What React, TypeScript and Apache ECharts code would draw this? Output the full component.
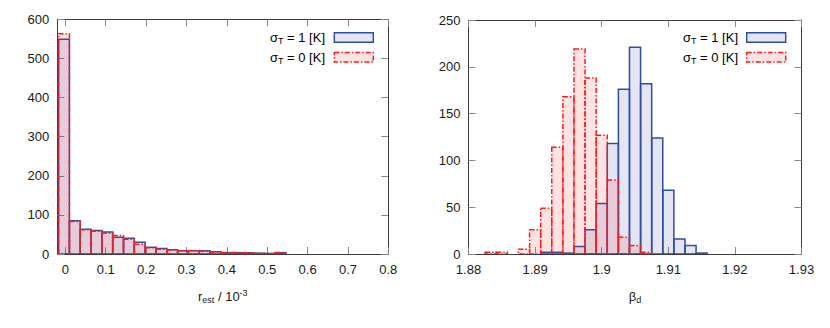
import React, { useEffect, useRef } from "react";
import * as echarts from "echarts";

// ---- Left panel: r_est histogram (units of 1e-3) ----
const leftBinStart = -0.0168;
const leftBinWidth = 0.0268;
const leftSigma1 = [549, 85, 63, 60, 56, 43, 40, 30, 17, 14, 11, 8, 8, 8, 6, 3, 3, 3, 2, 1, 3];
const leftSigma0 = [563, 83, 62, 58, 53, 47, 38, 25, 16, 12, 10, 8, 9, 7, 5, 4, 4, 3, 2, 1, 4];
const leftXTicks = [0, 0.1, 0.2, 0.3, 0.4, 0.5, 0.6, 0.7, 0.8];

// ---- Right panel: beta_d histogram ----
const rightBinStart = 1.8825;
const rightBinWidth = 0.001667;
const rightSigma1 = [0, 0, 0, 0, 0, 2, 2, 1, 8, 26, 54, 118, 176, 221, 182, 124, 68, 16, 9, 1];
const rightSigma0 = [2, 2, 0, 5, 26, 49, 114, 168, 219, 188, 127, 79, 18, 9, 2, 0, 0, 0, 0, 0];
const rightXTicks = [1.88, 1.89, 1.9, 1.91, 1.92, 1.93];

const FONT = "'Liberation Sans', Arial, Helvetica, sans-serif";
const TEXT = "#1a1a1a";
const AXIS = "#3a3a3a";
const TICK = "#888888";
const BLUE = "#2d4fa0";
const BLUE_FILL = "rgba(50,50,160,0.13)";
const RED = "#ff1a1a";
const RED_FILL = "rgba(255,40,40,0.13)";
const DASHDOT = [5, 2, 1.5, 2];

function toBins(start: number, width: number, counts: number[]) {
  return counts.map((c, i) => [start + i * width, start + (i + 1) * width, c]);
}

function histSeries(
  name: string,
  axisIdx: number,
  data: number[][],
  stroke: string,
  fill: string,
  dash: number[] | null
) {
  return {
    type: "custom",
    name,
    xAxisIndex: axisIdx * 2,
    yAxisIndex: axisIdx * 2,
    encode: { x: [0, 1], y: 2 },
    clip: true,
    data,
    renderItem: (params: any, api: any) => {
      const v = api.value(2);
      if (!v) return null;
      const p0 = api.coord([api.value(0), v]);
      const p1 = api.coord([api.value(1), 0]);
      return {
        type: "rect",
        shape: { x: p0[0], y: p0[1], width: p1[0] - p0[0], height: p1[1] - p0[1] },
        style: {
          fill,
          stroke,
          lineWidth: 1.5,
          lineDash: dash || undefined,
        },
      };
    },
  };
}

const axisLineStyle = { show: true, onZero: false, lineStyle: { color: AXIS, width: 1 } };
const tickStyle = { color: TICK, width: 1 };
const labelBase = { color: TEXT, fontSize: 13, fontFamily: FONT };

function xAxes(gridIndex: number, min: number, max: number, ticks: number[], fmt: (v: number) => string, name: string, rich: any) {
  return [
    {
      gridIndex,
      type: "value",
      min,
      max,
      position: "bottom",
      axisLine: axisLineStyle,
      axisTick: { show: true, inside: true, length: 7, customValues: ticks, lineStyle: tickStyle },
      axisLabel: { ...labelBase, margin: 9, customValues: ticks, formatter: fmt },
      splitLine: { show: false },
      name,
      nameLocation: "middle",
      nameGap: 34,
      nameTextStyle: { ...labelBase, rich },
    },
    {
      gridIndex,
      type: "value",
      min,
      max,
      position: "top",
      axisLine: axisLineStyle,
      axisTick: { show: true, inside: true, length: 7, customValues: ticks, lineStyle: tickStyle },
      axisLabel: { show: false },
      splitLine: { show: false },
    },
  ];
}

function yAxes(gridIndex: number, max: number, interval: number) {
  return [
    {
      gridIndex,
      type: "value",
      min: 0,
      max,
      interval,
      position: "left",
      axisLine: axisLineStyle,
      axisTick: { show: true, inside: true, length: 7, lineStyle: tickStyle },
      axisLabel: { ...labelBase, margin: 8 },
      splitLine: { show: false },
    },
    {
      gridIndex,
      type: "value",
      min: 0,
      max,
      interval,
      position: "right",
      axisLine: axisLineStyle,
      axisTick: { show: true, inside: true, length: 7, lineStyle: tickStyle },
      axisLabel: { show: false },
      splitLine: { show: false },
    },
  ];
}

function legendItems(textRight: number, rectX: number) {
  const rich = {
    a: { fontSize: 13, fontFamily: FONT, color: TEXT },
    s: { fontSize: 9, fontFamily: FONT, color: TEXT, padding: [7, 0, 0, 0] },
  };
  const rows = [
    { label: "{a|σ}{s|T}{a| = 1 [K]}", y: 37.5, stroke: BLUE, fill: "rgba(50,50,160,0.13)", dash: null },
    { label: "{a|σ}{s|T}{a| = 0 [K]}", y: 57.3, stroke: RED, fill: "rgba(255,40,40,0.13)", dash: DASHDOT },
  ];
  const out: any[] = [];
  rows.forEach((r) => {
    out.push({
      type: "text",
      x: textRight,
      y: r.y,
      style: { text: r.label, rich, align: "right", verticalAlign: "middle" },
    });
    out.push({
      type: "rect",
      shape: { x: rectX, y: r.y - 4.8, width: 39, height: 9.6 },
      style: { fill: r.fill, stroke: r.stroke, lineWidth: 1.5, lineDash: r.dash || undefined },
    });
  });
  return out;
}

export default function App() {
  const ref = useRef<HTMLDivElement>(null);

  useEffect(() => {
    if (!ref.current) return;
    const chart = echarts.init(ref.current, undefined, { renderer: "svg" });

    const subRich = {
      a: { fontSize: 13, fontFamily: FONT, color: TEXT },
      s: { fontSize: 9, fontFamily: FONT, color: TEXT, padding: [7, 0, 0, 0] },
      p: { fontSize: 9, fontFamily: FONT, color: TEXT, padding: [0, 0, 7, 0] },
    };

    const option: any = {
      animation: false,
      backgroundColor: "#ffffff",
      grid: [
        { left: 57.3, top: 19.3, width: 331, height: 234.7, containLabel: false },
        { left: 468.5, top: 20, width: 333, height: 234, containLabel: false },
      ],
      xAxis: [
        ...xAxes(
          0,
          -0.02,
          0.8,
          leftXTicks,
          (v: number) => String(+v.toFixed(1)),
          "{a|r}{s|est}{a| / 10}{p|-3}",
          subRich
        ),
        ...xAxes(
          1,
          1.88,
          1.93,
          rightXTicks,
          (v: number) => String(+v.toFixed(2)),
          "{a|β}{s|d}",
          subRich
        ),
      ],
      yAxis: [...yAxes(0, 600, 100), ...yAxes(1, 250, 50)],
      series: [
        histSeries("σT = 1 [K]", 0, toBins(leftBinStart, leftBinWidth, leftSigma1), BLUE, BLUE_FILL, null),
        histSeries("σT = 0 [K]", 0, toBins(leftBinStart, leftBinWidth, leftSigma0), RED, RED_FILL, DASHDOT),
        histSeries("σT = 1 [K]", 1, toBins(rightBinStart, rightBinWidth, rightSigma1), BLUE, BLUE_FILL, null),
        histSeries("σT = 0 [K]", 1, toBins(rightBinStart, rightBinWidth, rightSigma0), RED, RED_FILL, DASHDOT),
      ],
      graphic: [...legendItems(325, 334.3), ...legendItems(738, 746.7)],
    };

    chart.setOption(option);
    return () => chart.dispose();
  }, []);

  return (
    <div
      ref={ref}
      style={{ position: "fixed", left: 0, top: 0, width: 830, height: 328, background: "#fff" }}
    />
  );
}
